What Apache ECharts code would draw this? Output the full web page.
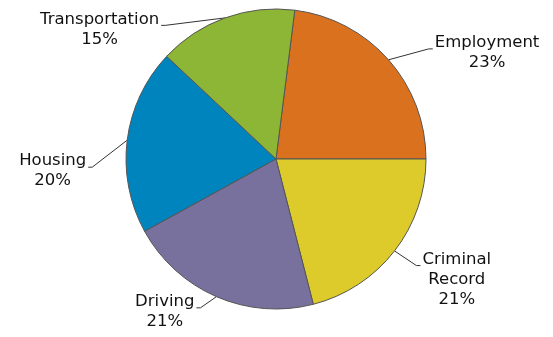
<!DOCTYPE html>
<html>
<head>
<meta charset="utf-8">
<script src="https://cdn.jsdelivr.net/npm/echarts@6/dist/echarts.min.js"></script>
<style>
  html, body { margin: 0; padding: 0; background: #fff; }
  #chart { width: 553px; height: 337px; }
</style>
</head>
<body>
<div id="chart"></div>
<script>
// data
const categories = ['Employment', 'Criminal Record', 'Driving', 'Housing', 'Transportation']
const shares = [23, 21, 21, 20, 15]
const colors = ['#d9711e', '#ddca2b', '#78719d', '#0084bd', '#8db637']

// leader line tuning per slice
const lineLen = [15, 10, 10, 4, 0]
const lineLen2 = [35, 20, 18, 37, 66]
const padTop = [6, 45, 12, 63, 23]

var chart = echarts.init(document.getElementById('chart'))

var data = categories.map(function (name, i) {
  return {
    name: name,
    value: shares[i],
    itemStyle: { color: colors[i] },
    label: { padding: [padTop[i], 0, 0, 0] },
    labelLine: { length: lineLen[i], length2: lineLen2[i] }
  }
})

var option = {
  animation: false,
  series: [
    {
      type: 'pie',
      center: [276, 159],
      radius: 150,
      startAngle: 82.8,
      clockwise: true,
      avoidLabelOverlap: false,
      silent: true,
      data: data,
      itemStyle: {
        borderColor: '#555',
        borderWidth: 1
      },
      label: {
        show: true,
        position: 'outside',
        distanceToLabelLine: 0,
        fontFamily: 'DejaVu Sans',
        fontSize: 16.5,
        lineHeight: 20,
        color: '#111',
        formatter: function (p) {
          var rows = p.name.split(' ').map(function (s) { return '{t|' + s + '}' })
          rows.push('{t|' + p.value + '%}')
          return rows.join('\n')
        },
        rich: {
          t: {
            align: 'center',
            fontFamily: 'DejaVu Sans',
            fontSize: 16.5,
            lineHeight: 20,
            color: '#111'
          }
        }
      },
      labelLine: {
        show: true,
        smooth: false,
        lineStyle: { color: '#333', width: 1 }
      },
      labelLayout: function (p) {
        var pts = p.labelLinePoints
        if (!pts) return {}
        var r = p.labelRect
        var y = r.y + padTop[p.dataIndex] + 16
        var right = pts[2][0] > pts[0][0]
        var endX = right ? r.x - 2 : r.x + r.width + 2
        return {
          labelLinePoints: [pts[0], [endX + (right ? -4 : 4), y], [endX, y]]
        }
      }
    }
  ]
}
chart.setOption(option)
</script>
</body>
</html>
